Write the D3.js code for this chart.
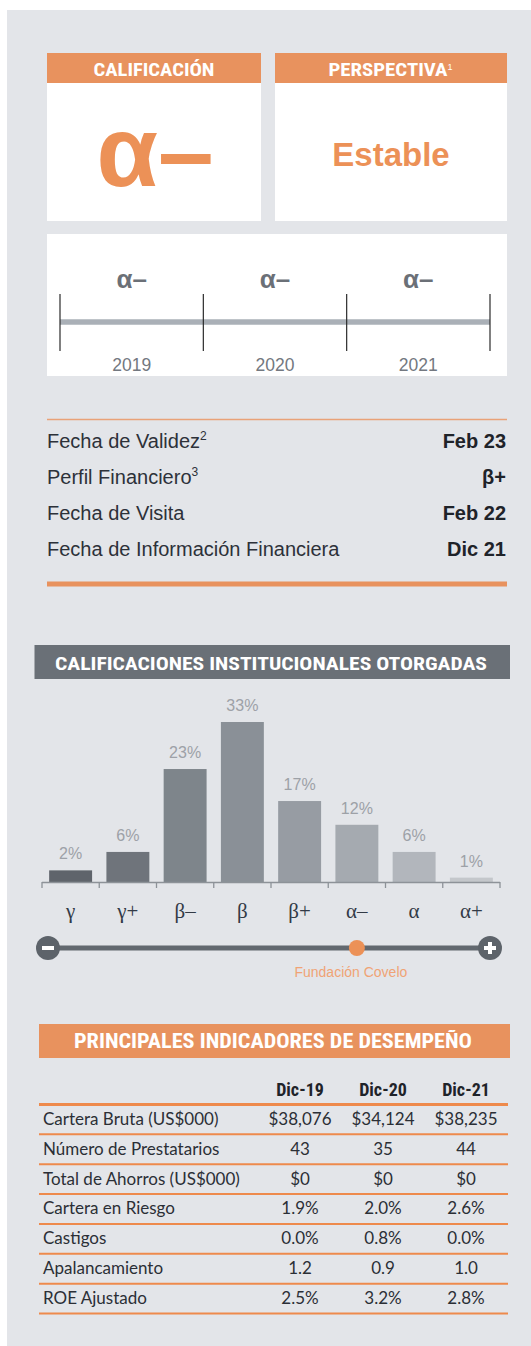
<html>
<head>
    <meta charset="utf-8">
    <script src="https://d3js.org/d3.v7.min.js"></script>
    <style type="text/css">
        body { margin: 0; background: #ffffff; }
        svg { display: block; }
        text { font-family: "Liberation Sans", Arial, sans-serif; }
        .narrow { font-family: "Liberation Sans Narrow", "Roboto Condensed", "Liberation Sans", sans-serif; }
        .head { fill: #ffffff; font-weight: bold; }
        .serif { font-family: "Liberation Serif", "DejaVu Serif", serif; }
        .tbl { font-family: Lato, "Open Sans", sans-serif; font-size: 17px; fill: #2b2f36; }
    </style>
</head>
<body>
    <svg id="sheet"></svg>

    <script>
        var W = 531, H = 1346;
        var Orange = "#e8925e";

        // rating history
        var Years = ["2019", "2020", "2021"];
        var YearRatings = ["α–", "α–", "α–"];

        // info rows
        var InfoLabels = ["Fecha de Validez", "Perfil Financiero", "Fecha de Visita", "Fecha de Información Financiera"];
        var InfoNotes = ["2", "3", "", ""];
        var InfoValues = ["Feb 23", "β+", "Feb 22", "Dic 21"];

        // distribution of ratings
        var Grades = ["γ", "γ+", "β–", "β", "β+", "α–", "α", "α+"];
        var GradeShare = [2.4, 6.2, 23.3, 33.0, 16.7, 11.8, 6.2, 0.9];
        var CurrentGrade = "α–";

        // performance table
        var Periods = ["Dic-19", "Dic-20", "Dic-21"];
        var Indicators = ["Cartera Bruta (US$000)", "Número de Prestatarios", "Total de Ahorros (US$000)",
                          "Cartera en Riesgo", "Castigos", "Apalancamiento", "ROE Ajustado"];
        var Dic19 = ["$38,076", "43", "$0", "1.9%", "0.0%", "1.2", "2.5%"];
        var Dic20 = ["$34,124", "35", "$0", "2.0%", "0.8%", "0.9", "3.2%"];
        var Dic21 = ["$38,235", "44", "$0", "2.6%", "0.0%", "1.0", "2.8%"];

        var BarColors = ["#5f646b", "#6f747b", "#7e858b", "#8a9097", "#979ca3", "#a5aab0", "#b2b6bc", "#c4c7cb"];

        var svg = d3.select("#sheet").attr("width", W).attr("height", H);

        svg.append("rect").attr("x", 7).attr("y", 10).attr("width", W - 7).attr("height", H - 10)
            .attr("fill", "#e3e5e9");

        // header text stretched to the width used in the print
        function header(x, y, size, len, txt)
        {
            return svg.append("text").classed("narrow", true).classed("head", true)
                .attr("x", x).attr("y", y).attr("text-anchor", "middle")
                .attr("font-size", size)
                .attr("textLength", len).attr("lengthAdjust", "spacingAndGlyphs")
                .text(txt);
        }

        // ---- top boxes ----
        var boxes = [
            {x: 47, w: 214, title: "CALIFICACIÓN", sup: "", len: 121},
            {x: 275, w: 232, title: "PERSPECTIVA", sup: "1", len: 119}
        ];
        boxes.forEach(function(b){
            svg.append("rect").attr("x", b.x).attr("y", 53).attr("width", b.w).attr("height", 30).attr("fill", Orange);
            svg.append("rect").attr("x", b.x).attr("y", 83).attr("width", b.w).attr("height", 138).attr("fill", "#ffffff");
            var cx = b.x + b.w/2 - (b.sup ? 3 : 0);
            header(cx, 76, 18, b.len, b.title);
            if (b.sup)
                svg.append("text").attr("x", cx + b.len/2).attr("y", 70).attr("font-size", 9)
                    .attr("fill", "#ffffff").text(b.sup);
        });

        svg.append("text").attr("x", 155).attr("y", 186).attr("text-anchor", "middle")
            .attr("font-size", 100).attr("font-weight", "bold").attr("fill", "#ec9157").text("α–");
        svg.append("text").attr("x", 391).attr("y", 166).attr("text-anchor", "middle")
            .attr("font-size", 33).attr("font-weight", "bold").attr("fill", "#ec9157").text("Estable");

        // ---- timeline ----
        svg.append("rect").attr("x", 47).attr("y", 234).attr("width", 460).attr("height", 142).attr("fill", "#ffffff");

        var tx = d3.scaleBand().domain(Years).range([60, 490]);

        svg.append("line").attr("x1", tx.range()[0]).attr("x2", tx.range()[1])
            .attr("y1", 322).attr("y2", 322).attr("stroke", "#aab0b7").attr("stroke-width", 5.5);

        var edges = Years.map(function(y){ return tx(y); }).concat([tx.range()[1]]);
        svg.selectAll(".ttick").data(edges).enter().append("line").classed("ttick", true)
            .attr("x1", function(d){ return d; }).attr("x2", function(d){ return d; })
            .attr("y1", 294).attr("y2", 351).attr("stroke", "#2b2b2b").attr("stroke-width", 1.2);

        svg.selectAll(".trating").data(Years).enter().append("text").classed("trating", true)
            .attr("x", function(d){ return tx(d) + tx.bandwidth()/2; }).attr("y", 288)
            .attr("text-anchor", "middle").attr("font-size", 26).attr("font-weight", "bold").attr("fill", "#6b7077")
            .text(function(d, i){ return YearRatings[i]; });

        svg.selectAll(".tyear").data(Years).enter().append("text").classed("tyear", true)
            .attr("x", function(d){ return tx(d) + tx.bandwidth()/2; }).attr("y", 371)
            .attr("text-anchor", "middle").attr("font-size", 17.5).attr("fill", "#737880")
            .text(function(d){ return d; });

        // ---- info rows ----
        svg.append("line").attr("x1", 47).attr("x2", 507).attr("y1", 419.5).attr("y2", 419.5)
            .attr("stroke", "#e9a278").attr("stroke-width", 1.3);

        InfoLabels.forEach(function(l, i){
            var y = 448 + i*36;
            var t = svg.append("text").attr("x", 47).attr("y", y)
                .attr("font-size", 20).attr("fill", "#2d3139").text(l);
            if (InfoNotes[i])
                t.append("tspan").attr("font-size", 12).attr("dy", -8).text(InfoNotes[i]);
            svg.append("text").attr("x", 506).attr("y", y)
                .attr("text-anchor", "end").attr("font-size", 20).attr("font-weight", "bold")
                .attr("fill", "#1f2329").text(InfoValues[i]);
        });

        svg.append("rect").attr("x", 47).attr("y", 581.5).attr("width", 460).attr("height", 5).attr("fill", Orange);

        // ---- ratings distribution ----
        svg.append("rect").attr("x", 34.5).attr("y", 645).attr("width", 475.5).attr("height", 34).attr("fill", "#6a7077");
        header(271, 670, 19, 432, "CALIFICACIONES INSTITUCIONALES OTORGADAS");

        var base = 882;
        var bx = d3.scaleBand().domain(Grades).range([42, 500]).paddingInner(0.25).paddingOuter(0.125);
        var by = d3.scaleLinear().domain([0, 33]).range([base, 722]);
        var pct = d3.format(".0f");

        svg.selectAll(".bar").data(Grades).enter().append("rect").classed("bar", true)
            .attr("x", function(d){ return bx(d); })
            .attr("y", function(d, i){ return by(GradeShare[i]); })
            .attr("width", bx.bandwidth())
            .attr("height", function(d, i){ return base - by(GradeShare[i]); })
            .attr("fill", function(d, i){ return BarColors[i]; });

        svg.selectAll(".blabel").data(Grades).enter().append("text").classed("blabel", true)
            .attr("x", function(d){ return bx(d) + bx.bandwidth()/2; })
            .attr("y", function(d, i){ return by(GradeShare[i]) - 11; })
            .attr("text-anchor", "middle").attr("font-size", 16).attr("fill", "#9da1a7")
            .text(function(d, i){ return pct(GradeShare[i]) + "%"; });

        var step = bx.step();
        var bedges = d3.range(Grades.length + 1).map(function(i){ return 42 + i*step; });
        svg.append("line").attr("x1", 42).attr("x2", 500).attr("y1", base + 0.5).attr("y2", base + 0.5)
            .attr("stroke", "#8d9298").attr("stroke-width", 1.5);
        svg.selectAll(".btick").data(bedges).enter().append("line").classed("btick", true)
            .attr("x1", function(d){ return d; }).attr("x2", function(d){ return d; })
            .attr("y1", base).attr("y2", base + 6).attr("stroke", "#8d9298").attr("stroke-width", 1.3);

        svg.selectAll(".glabel").data(Grades).enter().append("text").classed("glabel", true).classed("serif", true)
            .attr("x", function(d){ return bx(d) + bx.bandwidth()/2; }).attr("y", 918)
            .attr("text-anchor", "middle").attr("font-size", 21).attr("fill", "#323a46")
            .text(function(d){ return d; });

        // slider
        var sy = 948;
        svg.append("line").attr("x1", 48).attr("x2", 490).attr("y1", sy).attr("y2", sy)
            .attr("stroke", "#62686f").attr("stroke-width", 5);
        [48, 490].forEach(function(cx, i){
            svg.append("circle").attr("cx", cx).attr("cy", sy).attr("r", 12).attr("fill", "#5d636a");
            svg.append("line").attr("x1", cx - 6).attr("x2", cx + 6).attr("y1", sy).attr("y2", sy)
                .attr("stroke", "#ffffff").attr("stroke-width", 4);
            if (i == 1)
                svg.append("line").attr("x1", cx).attr("x2", cx).attr("y1", sy - 6).attr("y2", sy + 6)
                    .attr("stroke", "#ffffff").attr("stroke-width", 4);
        });
        var cur = bx(CurrentGrade) + bx.bandwidth()/2;
        svg.append("circle").attr("cx", cur).attr("cy", sy).attr("r", 8).attr("fill", "#ec9157");
        svg.append("text").attr("x", cur - 6).attr("y", 977).attr("text-anchor", "middle")
            .attr("font-size", 14).attr("fill", "#f0a375").text("Fundación Covelo");

        // ---- performance table ----
        svg.append("rect").attr("x", 39).attr("y", 1024).attr("width", 471).attr("height", 34).attr("fill", Orange);
        header(273, 1048, 20, 398, "PRINCIPALES INDICADORES DE DESEMPEÑO");

        var cx = d3.scalePoint().domain(Periods).range([300, 466]);
        var columns = [Dic19, Dic20, Dic21];

        svg.selectAll(".colhead").data(Periods).enter().append("text").classed("colhead", true).classed("narrow", true)
            .attr("x", function(d){ return cx(d); }).attr("y", 1096).attr("text-anchor", "middle")
            .attr("font-size", 18).attr("font-weight", "bold").attr("fill", "#1f2329")
            .text(function(d){ return d; });

        svg.append("line").attr("x1", 39).attr("x2", 508).attr("y1", 1104.5).attr("y2", 1104.5)
            .attr("stroke", "#ee8a4c").attr("stroke-width", 3);

        var ry = d3.scaleBand().domain(Indicators).range([1104.5, 1313.5]);

        Indicators.forEach(function(name, i){
            var y = ry(name) + ry.bandwidth() - 9.5;
            svg.append("text").classed("tbl", true).attr("x", 43).attr("y", y).text(name);
            Periods.forEach(function(p, j){
                svg.append("text").classed("tbl", true).attr("x", cx(p)).attr("y", y)
                    .attr("text-anchor", "middle").text(columns[j][i]);
            });
            svg.append("line").attr("x1", 39).attr("x2", 508)
                .attr("y1", ry(name) + ry.bandwidth()).attr("y2", ry(name) + ry.bandwidth())
                .attr("stroke", "#ee8a4c").attr("stroke-width", 2);
        });
    </script>
</body>
</html>
